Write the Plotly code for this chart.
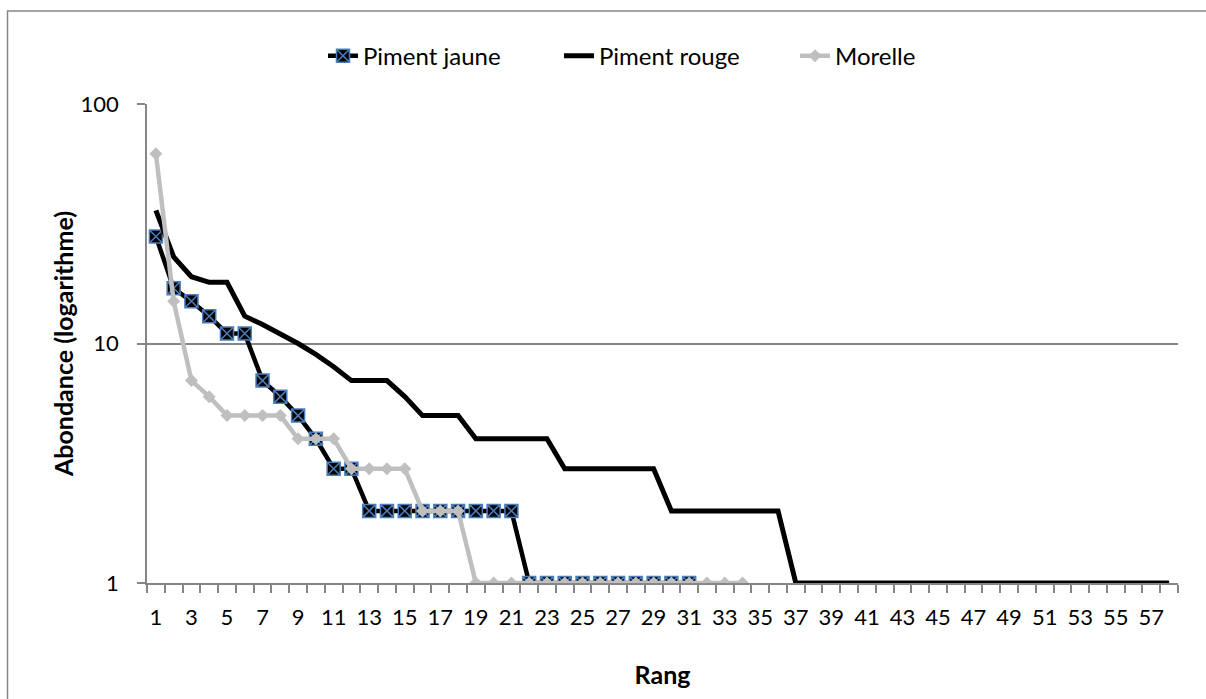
import plotly.graph_objects as go

ranks = [1, 2, 3, 4, 5, 6, 7, 8, 9, 10, 11, 12, 13, 14, 15, 16, 17, 18, 19, 20,
         21, 22, 23, 24, 25, 26, 27, 28, 29, 30, 31, 32, 33, 34, 35, 36, 37, 38, 39, 40,
         41, 42, 43, 44, 45, 46, 47, 48, 49, 50, 51, 52, 53, 54, 55, 56, 57, 58]

piment_jaune = [28, 17, 15, 13, 11, 11, 7, 6, 5, 4, 3, 3, 2, 2, 2, 2, 2, 2, 2, 2, 2,
                1, 1, 1, 1, 1, 1, 1, 1, 1, 1]
piment_rouge = [36, 23, 19, 18, 18, 13, 12, 11, 10, 9, 8, 7, 7, 7, 6, 5, 5, 5,
                4, 4, 4, 4, 4, 3, 3, 3, 3, 3, 3, 2, 2, 2, 2, 2, 2, 2,
                1, 1, 1, 1, 1, 1, 1, 1, 1, 1, 1, 1, 1, 1, 1, 1, 1, 1, 1, 1, 1, 1]
morelle = [62, 15, 7, 6, 5, 5, 5, 5, 4, 4, 4, 3, 3, 3, 3, 2, 2, 2,
           1, 1, 1, 1, 1, 1, 1, 1, 1, 1, 1, 1, 1, 1, 1, 1]

y_ticks = [1, 10, 100]
x_labels = ranks[::2]

FONT = "Lato"
GRID = "#868686"

fig = go.Figure()
fig.add_trace(go.Scatter(
    x=ranks[:len(piment_jaune)], y=piment_jaune, name="Piment jaune",
    mode="lines+markers",
    line=dict(color="black", width=4.5),
    marker=dict(symbol="square-x", size=13, color="black",
                line=dict(color="#4A7EBB", width=1.5)),
))
fig.add_trace(go.Scatter(
    x=ranks[:len(piment_rouge)], y=piment_rouge, name="Piment rouge",
    mode="lines",
    line=dict(color="black", width=5),
))
fig.add_trace(go.Scatter(
    x=ranks[:len(morelle)], y=morelle, name="Morelle",
    mode="lines+markers",
    line=dict(color="#BFBFBF", width=4.5),
    marker=dict(symbol="diamond", size=10, color="#BFBFBF"),
))

fig.update_layout(
    width=1206, height=699,
    margin=dict(l=147, r=28, t=104, b=116),
    paper_bgcolor="white", plot_bgcolor="white",
    font=dict(family=FONT, size=22, color="black"),
    showlegend=True,
    legend=dict(orientation="h", x=0.1707, xanchor="left", y=1.100, yanchor="middle",
                font=dict(family=FONT, size=24), entrywidth=191, entrywidthmode="pixels",
                itemwidth=30, tracegroupgap=0),
    xaxis=dict(
        range=[0.5, 58.5], tickmode="array", tickvals=x_labels,
        ticktext=[str(v) for v in x_labels],
        ticks="", showgrid=False, zeroline=False,
        showline=True, linecolor=GRID, linewidth=1.5,
        minor=dict(tick0=0.5, dtick=1, ticks="outside", ticklen=8,
                   tickcolor=GRID, tickwidth=1.5, showgrid=False),
        tickfont=dict(family=FONT, size=22),
        ticklabelstandoff=14,
        title=dict(text="<b>Rang</b>", font=dict(family=FONT, size=25), standoff=37),
    ),
    yaxis=dict(
        type="log", range=[0, 2], tickmode="array", tickvals=y_ticks,
        ticktext=[str(v) for v in y_ticks],
        ticks="outside", ticklen=8, tickcolor=GRID, tickwidth=1.5,
        showgrid=True, gridcolor=GRID, gridwidth=1.5, zeroline=False,
        showline=True, linecolor=GRID, linewidth=1.5,
        tickfont=dict(family=FONT, size=22),
        ticklabelstandoff=14,
        title=dict(text="<b>Abondance (logarithme)</b>", font=dict(family=FONT, size=25),
                   standoff=0),
    ),
    shapes=[dict(type="rect", xref="paper", yref="paper",
                 x0=-0.1353, x1=1.031, y0=-0.255, y1=1.194,
                 line=dict(color=GRID, width=1.5), layer="below")],
)

fig.write_html("out.html", config={"displayModeBar": False},
               post_script="document.body.style.margin='0';")
